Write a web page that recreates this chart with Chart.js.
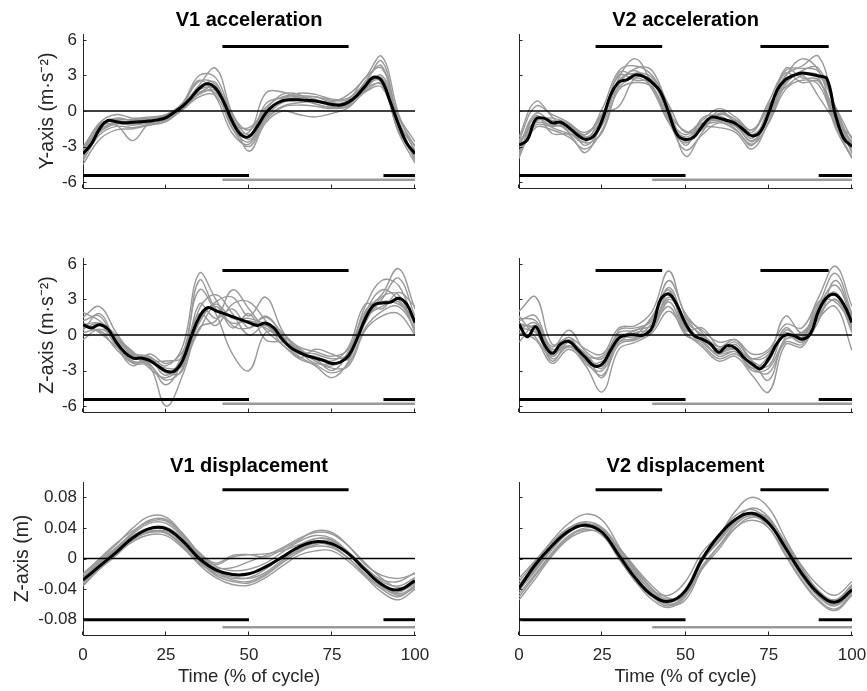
<!DOCTYPE html>
<html>
<head>
<meta charset="utf-8">
<title>Acceleration and displacement over the cycle</title>
<script src="https://cdn.jsdelivr.net/npm/chart.js@4.4.1/dist/chart.umd.min.js"></script>
<style>
  body { margin: 0; background: #fff; }
  canvas { position: absolute; }
</style>
</head>
<body>
<canvas id="p1" width="432" height="224" style="left:0px;top:0px"></canvas>
<canvas id="p2" width="431" height="224" style="left:436px;top:0px"></canvas>
<canvas id="p3" width="432" height="224" style="left:0px;top:224px"></canvas>
<canvas id="p4" width="431" height="224" style="left:436px;top:224px"></canvas>
<canvas id="p5" width="432" height="243" style="left:0px;top:448px"></canvas>
<canvas id="p6" width="431" height="243" style="left:436px;top:448px"></canvas>
<script>
// time bases (% of cycle)
const time5 = [0, 5, 10, 15, 20, 25, 30, 35, 40, 45, 50, 55, 60, 65, 70, 75, 80, 85, 90, 95, 100];
const time2p5 = [0, 2.5, 5, 7.5, 10, 12.5, 15, 17.5, 20, 22.5, 25, 27.5, 30, 32.5, 35, 37.5, 40, 42.5, 45, 47.5,
  50, 52.5, 55, 57.5, 60, 62.5, 65, 67.5, 70, 72.5, 75, 77.5, 80, 82.5, 85, 87.5, 90, 92.5, 95, 97.5, 100];

// tick labels
const timeTicks = [0, 25, 50, 75, 100];
const accTicks = [-6, -3, 0, 3, 6];
const dispTicks = [-0.08, -0.04, 0, 0.04, 0.08];

// mean curves
const v1AccYMean = [-3.6, -2.8, -1.5, -0.8, -0.9, -1.0, -0.95, -0.9, -0.85, -0.75, -0.55, -0.1, 0.4, 1.1, 1.9, 2.3, 1.9, 0.7, -0.9, -2.0,
  -2.15, -1.3, -0.2, 0.5, 0.85, 0.95, 0.95, 0.9, 0.85, 0.7, 0.55, 0.5, 0.75, 1.3, 2.1, 2.85, 2.55, 0.8, -1.1, -2.7, -3.6];
const v2AccYMean = [-2.9, -2.45, -0.7, -0.6, -1.0, -0.95, -1.4, -2.0, -2.4, -2.1, -0.75, 1.35, 2.45, 2.65, 3.05, 2.9, 2.4, 1.6, -0.2, -2.0,
  -2.4, -2.2, -1.3, -0.55, -0.6, -0.8, -1.05, -1.6, -2.1, -1.75, -0.15, 1.75, 2.65, 3.0, 3.2, 3.1, 2.95, 2.7, -0.3, -2.3, -3.0];
const v1AccZMean = [0.87, 0.6, 0.87, 0.5, -0.6, -1.45, -1.95, -1.95, -2.15, -2.6, -3.05, -3.05, -2.15, -0.2, 1.5, 2.3, 2.05, 1.8, 1.55, 1.3,
  1.05, 0.8, 1.0, 0.6, -0.35, -1.05, -1.45, -1.75, -1.95, -2.15, -2.4, -2.3, -1.75, -0.35, 1.35, 2.5, 2.7, 2.75, 3.1, 2.6, 1.05];
const v2AccZMean = [0.93, -0.15, 0.7, -0.75, -1.55, -0.75, -0.55, -1.2, -1.9, -2.6, -2.45, -1.3, -0.25, 0.0, 0.0, 0.0, 0.65, 3.0, 3.45, 2.5,
  0.95, -0.05, -0.35, -0.75, -1.45, -0.9, -1.1, -1.9, -2.45, -2.85, -2.0, -0.7, 0.0, -0.05, -0.35, 0.1, 2.05, 3.2, 3.4, 2.6, 1.05];
const v1DispZMean = [-0.028, -0.010, 0.008, 0.027, 0.039, 0.039, 0.023, 0.0, -0.015, -0.021, -0.020, -0.011, 0.002, 0.015, 0.022, 0.019,
  0.006, -0.015, -0.034, -0.041, -0.029];
const v2DispZMean = [-0.039, -0.0075, 0.017, 0.036, 0.0435, 0.034, 0.004, -0.026, -0.048, -0.056, -0.042, -0.001, 0.030, 0.051, 0.059,
  0.046, 0.014, -0.020, -0.046, -0.057, -0.041];

// individual trials (5 % steps)
const v1AccYTrials = [
  [-3.2, -1.0, -0.3, -0.6, -0.5, -0.3, 0.7, 3.0, 2.8, -0.3, -1.6, 0.3, 1.2, 1.3, 1.2, 0.9, 1.0, 2.8, 3.6, -0.5, -3.0],
  [-4.2, -2.0, -1.3, -1.4, -1.1, -0.8, 0.1, 1.2, 1.3, -1.5, -3.0, -0.8, 0.3, 0.5, 0.4, 0.2, 0.4, 1.6, 2.0, -1.6, -4.0],
  [-3.8, -1.3, -1.2, -2.5, -1.0, -0.6, 0.3, 1.6, 1.5, -0.6, -2.4, -0.3, 1.0, 1.5, 1.4, 1.0, 1.1, 2.4, 4.2, -0.8, -3.3],
  [-3.0, -1.2, -0.6, -0.8, -0.7, -0.4, 0.6, 2.5, 2.2, -1.2, -1.8, 1.5, 1.6, 1.0, 0.6, 0.3, 0.6, 1.9, 2.2, -1.8, -4.4],
  [-4.5, -2.4, -1.6, -1.5, -1.2, -0.9, 0.2, 1.5, 2.0, -0.5, -3.4, -1.0, 0.0, -0.3, -0.5, -0.2, 0.3, 1.8, 3.0, -0.4, -2.6],
  [-3.4, -1.4, -0.7, -0.8, -0.6, -0.4, 0.5, 2.2, 3.6, -0.2, -2.0, 0.0, 0.9, 1.1, 1.2, 0.8, 1.4, 2.8, 4.6, -0.2, -3.5],
  [-3.9, -1.8, -1.1, -1.2, -1.0, -0.7, 0.4, 1.8, 1.8, -1.4, -2.6, -0.5, 0.7, 0.9, 0.9, 0.7, 0.7, 2.2, 2.5, -1.3, -3.9],
  [-3.6, -1.6, -1.0, -1.1, -0.9, -0.5, 0.2, 1.4, 1.7, -0.8, -2.2, 0.6, 1.1, 1.2, 1.0, 0.4, 0.9, 2.0, 2.8, -1.0, -4.2],
  [-4.0, -1.7, -0.9, -1.0, -0.8, -0.6, 0.3, 2.0, 2.4, -1.0, -1.4, 0.1, 1.4, 1.4, 0.6, 0.3, 0.5, 2.5, 3.8, -1.2, -2.9],
  [-3.3, -1.1, -0.8, -0.7, -0.6, -0.3, 0.6, 2.6, 1.2, -1.9, -2.8, -0.6, 0.4, 0.7, 0.8, 0.6, 0.8, 1.7, 2.3, -1.7, -3.7]
];
const v2AccYTrials = [
  [-2.5, 0.4, -0.3, -1.0, -2.0, 0.2, 3.4, 3.8, 3.0, 0.5, -1.8, -0.8, 0.2, -0.5, -1.6, 0.8, 3.4, 3.6, 3.3, 0.4, -2.4],
  [-3.8, -1.4, -1.6, -2.2, -3.2, -1.6, 1.8, 2.4, 2.0, -0.8, -3.3, -2.0, -1.0, -1.6, -2.8, -1.0, 1.8, 2.6, 2.2, -1.2, -3.9],
  [-2.2, 0.8, -0.5, -1.8, -2.6, -0.3, 0.4, 2.8, 2.6, 0.0, -2.6, -1.5, -0.3, -0.9, -2.3, 0.2, 3.0, 3.8, 4.6, 0.2, -2.8],
  [-3.4, -1.2, -1.3, -1.2, -2.2, -1.2, 2.8, 4.4, 2.2, -0.6, -2.0, -1.0, -0.8, -1.3, -2.5, -0.6, 2.4, 3.0, 1.2, -1.0, -3.4],
  [-4.0, -0.4, -1.9, -2.0, -3.5, -0.8, 2.6, 3.2, 2.8, 0.3, -3.8, -1.8, -0.2, -0.7, -1.6, 0.4, 2.9, 4.4, 3.4, -0.6, -2.2],
  [-2.8, -0.9, -0.6, -1.1, -1.8, -0.4, 3.0, 2.6, 2.4, -0.4, -2.4, -1.4, -1.4, -1.8, -3.2, -0.9, 2.2, 3.4, 3.6, 0.0, -3.6],
  [-3.1, -0.2, -1.0, -1.6, -2.7, -1.8, 2.2, 3.6, 3.4, 0.1, -2.9, -0.6, -0.4, -1.2, -2.0, -0.3, 3.6, 2.8, 2.6, -0.8, -2.6],
  [-2.6, -1.0, -1.2, -1.4, -2.0, -0.2, 2.0, 2.8, 2.0, -0.9, -2.2, -1.2, -0.9, -0.8, -1.8, 0.6, 2.0, 3.0, 3.0, 0.3, -3.2],
  [-3.6, -0.7, -0.8, -1.3, -2.9, -1.0, 3.2, 3.0, 2.6, -0.1, -1.7, -1.6, 0.0, -1.0, -2.6, -0.4, 2.6, 3.2, 2.8, -1.4, -4.0],
  [-2.9, -0.5, -1.4, -1.9, -2.3, -0.6, 2.4, 3.4, 1.8, -1.0, -2.7, -1.1, -0.7, -1.5, -2.9, 0.0, 3.2, 2.4, 2.5, -0.2, -3.0]
];
const v1AccZTrials = [
  [1.5, 2.4, 0.2, -1.5, -1.8, -2.6, -1.0, 5.2, 3.0, 0.8, 0.6, 1.5, 0.2, -1.0, -1.4, -1.8, -1.2, 2.4, 4.6, 4.2, 0.8],
  [0.2, 0.4, -1.2, -2.4, -2.6, -6.0, -3.4, 0.6, 1.2, 3.8, 2.2, 0.4, -0.8, -2.0, -2.5, -3.2, -2.4, 0.6, 2.0, 2.4, 0.6],
  [1.9, 1.2, -0.2, -1.6, -2.0, -3.4, -1.6, 3.8, 1.8, -1.6, -3.0, 0.2, -0.1, -1.2, -2.2, -2.6, -1.4, 2.0, 3.4, 5.6, 2.2],
  [0.6, 0.9, -0.9, -2.2, -2.3, -2.8, -2.6, 1.2, 2.8, 3.2, 1.6, 3.2, 0.4, -1.3, -1.6, -2.0, -1.6, 1.0, 3.2, 3.4, 0.2],
  [-0.4, 0.5, -0.4, -1.8, -2.5, -3.8, -2.8, 2.2, 3.4, 1.8, 0.0, 0.8, -0.8, -1.8, -2.6, -3.6, -2.2, 1.6, 2.8, 2.6, 1.4],
  [1.2, 1.6, -0.8, -2.6, -1.6, -2.4, -1.4, 1.8, 0.8, 2.6, 2.8, 1.2, -0.5, -1.6, -1.8, -2.2, -1.0, 2.6, 2.2, 3.6, 2.4],
  [0.8, 0.3, -0.3, -1.4, -2.8, -3.6, -2.4, 0.4, 2.4, 0.6, 1.8, -0.4, -0.6, -1.1, -2.2, -2.8, -2.6, 0.4, 1.6, 1.8, 0.0],
  [0.4, 1.8, -0.6, -2.0, -1.9, -3.2, -3.0, 2.6, 1.4, 2.2, 0.6, 1.6, 0.0, -1.9, -1.2, -1.6, -2.0, 1.8, 3.8, 3.0, 1.0],
  [1.0, 0.2, -1.0, -2.3, -2.2, -2.2, -1.8, 4.6, 2.2, 1.0, 1.2, 0.6, -0.4, -1.4, -2.4, -2.4, -1.8, 1.2, 3.0, 4.8, 1.6],
  [0.9, 1.0, 0.0, -1.7, -2.4, -4.2, -2.2, 1.0, 2.6, 1.4, 1.4, 0.9, -0.2, -1.5, -2.0, -3.0, -1.5, 1.4, 2.4, 2.8, 0.4]
];
const v2AccZTrials = [
  [2.0, 3.2, -0.8, -0.2, -1.2, -1.6, 0.6, 0.8, 2.0, 5.4, 1.6, 0.4, -0.6, -0.4, -1.6, -1.2, 0.9, 0.6, 3.2, 5.8, 2.4],
  [0.2, -0.4, -2.4, -1.2, -2.6, -4.8, -1.2, -0.6, 0.2, 2.0, 0.2, -1.0, -2.2, -1.8, -3.4, -4.8, -0.8, -1.0, 1.4, 2.4, -1.3],
  [1.4, 1.2, -1.0, 0.4, -1.4, -2.0, 0.2, 0.4, 1.4, 4.6, 1.8, 0.2, -1.0, -0.4, -2.0, -1.6, 1.6, 0.2, 2.6, 5.2, 1.8],
  [0.6, 0.2, -2.0, -1.0, -2.2, -3.4, -0.8, -0.4, 0.4, 2.8, 0.2, -0.8, -2.0, -1.6, -2.8, -3.2, -0.6, -0.8, 1.6, 3.0, 0.4],
  [1.2, 1.6, -1.4, -0.6, -1.6, -2.8, 0.4, 0.6, 1.2, 4.0, 1.2, 0.0, -1.2, -0.6, -2.2, -2.6, 0.4, -0.2, 2.4, 4.2, 1.4],
  [-0.6, 0.8, -1.8, -0.2, -2.2, -2.2, -0.6, 0.2, 0.6, 3.6, 0.6, -0.4, -1.8, -1.4, -2.8, -1.8, 0.2, -0.6, 2.2, 3.6, 0.6],
  [0.8, 0.6, -1.2, -0.9, -1.6, -3.6, -0.2, -0.2, 1.0, 3.0, 1.4, -0.2, -1.4, -1.2, -2.2, -3.8, -0.2, 0.2, 1.8, 3.0, 1.2],
  [1.6, -0.2, -1.8, -0.4, -2.0, -2.6, -0.4, 0.4, 0.8, 2.4, 0.0, -0.6, -1.6, -0.8, -2.6, -2.2, 0.6, -0.4, 2.8, 2.8, 0.8],
  [0.4, 1.0, -1.4, -1.0, -1.8, -1.8, 0.0, 0.0, 1.6, 3.8, 0.4, 0.6, -1.0, -1.2, -2.0, -1.4, 0.0, -0.6, 1.2, 4.6, 1.6],
  [1.0, 0.4, -2.2, -0.6, -2.4, -3.0, -0.6, -0.3, 0.6, 3.2, 1.0, -0.6, -1.6, -1.4, -3.0, -2.8, -0.4, 0.0, 2.0, 3.4, 0.2]
];
const v1DispZTrials = [
  [-0.022, -0.002, 0.018, 0.040, 0.055, 0.054, 0.032, 0.006, -0.010, -0.016, -0.014, -0.006, 0.008, 0.022, 0.030, 0.026, 0.008, -0.012, -0.028, -0.030, -0.018],
  [-0.034, -0.012, 0.006, 0.022, 0.031, 0.030, 0.014, -0.008, -0.025, -0.034, -0.035, -0.025, -0.010, 0.004, 0.010, 0.010, -0.004, -0.024, -0.044, -0.054, -0.040],
  [-0.030, -0.008, 0.012, 0.032, 0.046, 0.046, 0.028, 0.004, -0.008, 0.002, 0.005, 0.006, 0.010, 0.018, 0.026, 0.024, 0.008, -0.014, -0.030, -0.036, -0.025],
  [-0.025, -0.004, 0.014, 0.030, 0.040, 0.041, 0.026, 0.004, -0.016, -0.028, -0.030, -0.020, -0.004, 0.012, 0.022, 0.022, 0.008, -0.012, -0.032, -0.046, -0.036],
  [-0.036, -0.014, 0.004, 0.024, 0.035, 0.036, 0.022, 0.002, -0.012, -0.012, -0.004, 0.004, 0.014, 0.026, 0.034, 0.032, 0.016, -0.006, -0.026, -0.038, -0.032],
  [-0.020, 0.000, 0.020, 0.036, 0.048, 0.049, 0.030, 0.006, -0.014, -0.022, -0.020, -0.010, 0.000, 0.010, 0.016, 0.014, 0.000, -0.020, -0.038, -0.044, -0.030],
  [-0.032, -0.010, 0.010, 0.028, 0.036, 0.034, 0.018, -0.004, -0.022, -0.030, -0.032, -0.022, -0.006, 0.008, 0.018, 0.020, 0.006, -0.014, -0.034, -0.042, -0.034],
  [-0.028, -0.006, 0.014, 0.034, 0.050, 0.051, 0.033, 0.008, -0.006, 0.004, 0.005, 0.002, 0.012, 0.024, 0.036, 0.034, 0.016, -0.008, -0.022, -0.026, -0.020],
  [-0.026, -0.005, 0.012, 0.028, 0.038, 0.038, 0.020, -0.003, -0.020, -0.026, -0.025, -0.014, 0.002, 0.016, 0.026, 0.024, 0.006, -0.016, -0.036, -0.048, -0.038],
  [-0.031, -0.009, 0.009, 0.026, 0.034, 0.033, 0.016, -0.006, -0.018, -0.024, -0.026, -0.018, -0.002, 0.010, 0.020, 0.016, 0.000, -0.022, -0.040, -0.050, -0.036]
];
const v2DispZTrials = [
  [-0.030, -0.004, 0.024, 0.046, 0.058, 0.050, 0.016, -0.018, -0.044, -0.056, -0.046, -0.004, 0.028, 0.062, 0.080, 0.066, 0.026, -0.012, -0.042, -0.054, -0.036],
  [-0.050, -0.022, 0.006, 0.028, 0.038, 0.030, 0.000, -0.030, -0.054, -0.064, -0.050, -0.010, 0.016, 0.040, 0.050, 0.040, 0.006, -0.028, -0.054, -0.066, -0.046],
  [-0.036, -0.010, 0.018, 0.038, 0.046, 0.034, 0.000, -0.030, -0.050, -0.058, -0.044, 0.000, 0.030, 0.056, 0.064, 0.048, 0.016, -0.018, -0.046, -0.058, -0.040],
  [-0.042, -0.016, 0.012, 0.034, 0.044, 0.040, 0.014, -0.016, -0.040, -0.054, -0.042, -0.002, 0.022, 0.048, 0.058, 0.046, 0.014, -0.020, -0.048, -0.060, -0.044],
  [-0.026, -0.002, 0.022, 0.040, 0.046, 0.036, 0.010, -0.020, -0.042, -0.048, -0.030, 0.008, 0.030, 0.052, 0.060, 0.050, 0.022, -0.010, -0.036, -0.048, -0.030],
  [-0.046, -0.020, 0.008, 0.030, 0.040, 0.036, 0.012, -0.014, -0.040, -0.060, -0.054, -0.014, 0.012, 0.040, 0.054, 0.044, 0.010, -0.024, -0.050, -0.060, -0.042],
  [-0.038, -0.012, 0.016, 0.036, 0.044, 0.038, 0.010, -0.022, -0.048, -0.056, -0.040, 0.002, 0.026, 0.050, 0.060, 0.052, 0.020, -0.014, -0.044, -0.056, -0.038],
  [-0.054, -0.026, 0.004, 0.026, 0.036, 0.034, 0.014, -0.012, -0.036, -0.052, -0.048, -0.012, 0.016, 0.044, 0.056, 0.040, 0.004, -0.030, -0.056, -0.068, -0.048],
  [-0.034, -0.008, 0.020, 0.040, 0.048, 0.040, 0.010, -0.024, -0.048, -0.060, -0.048, 0.000, 0.024, 0.050, 0.066, 0.054, 0.018, -0.016, -0.046, -0.054, -0.034],
  [-0.040, -0.014, 0.014, 0.034, 0.043, 0.036, 0.006, -0.026, -0.050, -0.062, -0.046, -0.004, 0.022, 0.046, 0.056, 0.046, 0.012, -0.020, -0.050, -0.062, -0.044]
];

// phase bars: [start, end] in % of cycle
const v1TopBars = [[42, 80]];
const v2TopBars = [[23, 43], [72.5, 93]];
const v1BlackBars = [[0, 50], [90.5, 100]];
const v2BlackBars = [[0, 50], [90, 100]];
const v1GreyBars = [[42, 100]];
const v2GreyBars = [[40, 100]];
// bar levels: top, black, grey
const accBarLevels = [5.45, -5.45, -5.8];
const dispBarLevels = [0.09, -0.08, -0.09];

Chart.defaults.font.family = "'Liberation Sans', Arial, Helvetica, sans-serif";
const axisColor = '#262626';
const greyColor = '#999999';

function pts(xs, ys) {
  return xs.map((x, i) => ({x: x, y: ys[i]}));
}

function flat(span, y) {
  return [{x: span[0], y: y}, {x: span[1], y: y}];
}

function fixedTicks(values) {
  return scale => { scale.ticks = values.map(v => ({value: v})); };
}

function noPadding(scale) {
  scale.paddingLeft = 0;
  scale.paddingRight = 0;
  scale.paddingTop = 0;
  scale.paddingBottom = 0;
}

// short tick marks pointing into the plot
const inwardTicks = {
  id: 'inwardTicks',
  afterDraw(chart) {
    const {ctx, chartArea: a, scales: {x, y}} = chart;
    ctx.save();
    ctx.strokeStyle = axisColor;
    ctx.lineWidth = 1;
    ctx.beginPath();
    x.ticks.forEach(t => {
      const px = Math.round(x.getPixelForValue(t.value)) - 0.5;
      ctx.moveTo(px, a.bottom);
      ctx.lineTo(px, a.bottom - 3.5);
    });
    y.ticks.forEach(t => {
      const py = Math.round(y.getPixelForValue(t.value)) + 0.5;
      ctx.moveTo(a.left, py);
      ctx.lineTo(a.left + 3.5, py);
    });
    ctx.stroke();
    ctx.restore();
  }
};

function drawPanel(id, p)
{
  let datasets = [];
  datasets.push({data: pts(p.meanTime, p.mean), borderColor: '#000000', borderWidth: 3});
  datasets.push({data: flat([0, 100], 0), borderColor: '#000000', borderWidth: 1.5, tension: 0});
  p.topBars.forEach(b => datasets.push({data: flat(b, p.barLevels[0]), borderColor: '#000000', borderWidth: 3, tension: 0}));
  p.blackBars.forEach(b => datasets.push({data: flat(b, p.barLevels[1]), borderColor: '#000000', borderWidth: 3, tension: 0}));
  p.greyBars.forEach(b => datasets.push({data: flat(b, p.barLevels[2]), borderColor: greyColor, borderWidth: 2.5, tension: 0}));
  p.trials.forEach(tr => datasets.push({data: pts(time5, tr), borderColor: greyColor, borderWidth: 1.4}));

  new Chart(id, {
    type: 'line',
    data: {datasets: datasets},
    plugins: [inwardTicks],
    options: {
      responsive: false,
      animation: false,
      devicePixelRatio: 1,
      events: [],
      layout: {padding: {top: p.padTop, right: p.padRight, bottom: 0, left: 0}},
      elements: {
        point: {radius: 0},
        line: {tension: 0.4, fill: false, borderCapStyle: 'butt'}
      },
      plugins: {
        legend: {display: false},
        tooltip: {enabled: false},
        title: {
          display: !!p.title,
          text: p.title,
          fullSize: false,
          color: '#000000',
          font: {size: 20, weight: 'bold'},
          padding: p.titlePad
        }
      },
      scales: {
        x: {
          type: 'linear',
          min: 0,
          max: 100,
          afterBuildTicks: fixedTicks(timeTicks),
          afterFit: s => { s.height = p.xHeight; noPadding(s); },
          grid: {display: false, drawTicks: false},
          border: {display: true, color: axisColor, width: 1},
          ticks: {display: p.showX, padding: 10, color: axisColor, font: {size: 17}, maxRotation: 0},
          title: {display: p.showX, text: 'Time (% of cycle)', color: axisColor, font: {size: 18.5}, padding: {top: 0, bottom: 3}}
        },
        y: {
          type: 'linear',
          min: p.yRange[0],
          max: p.yRange[1],
          afterBuildTicks: fixedTicks(p.yTicks),
          afterFit: s => { s.width = 83; noPadding(s); },
          grid: {display: false, drawTicks: false},
          border: {display: true, color: axisColor, width: 1},
          ticks: {display: !!p.yTitle, padding: 6, color: axisColor, font: {size: 17}, callback: v => String(v)},
          title: {display: !!p.yTitle, text: p.yTitle, color: axisColor, font: {size: 19.5}, padding: {top: p.yTitlePad, bottom: 0}}
        }
      }
    }
  });
}

const accRange = [-6.5, 6.5];
const dispRange = [-0.1, 0.1];

drawPanel('p1', {
  title: 'V1 acceleration', titlePad: {top: 8, bottom: 2}, padTop: 0, padRight: 17, xHeight: 36, showX: false,
  yTitle: 'Y-axis (m·s⁻²)', yTitlePad: 36, yRange: accRange, yTicks: accTicks,
  meanTime: time2p5, mean: v1AccYMean, trials: v1AccYTrials,
  topBars: v1TopBars, blackBars: v1BlackBars, greyBars: v1GreyBars, barLevels: accBarLevels
});
drawPanel('p2', {
  title: 'V2 acceleration', titlePad: {top: 8, bottom: 2}, padTop: 0, padRight: 15, xHeight: 36, showX: false,
  yTitle: '', yTitlePad: 0, yRange: accRange, yTicks: accTicks,
  meanTime: time2p5, mean: v2AccYMean, trials: v2AccYTrials,
  topBars: v2TopBars, blackBars: v2BlackBars, greyBars: v2GreyBars, barLevels: accBarLevels
});
drawPanel('p3', {
  title: '', titlePad: 0, padTop: 34, padRight: 17, xHeight: 36, showX: false,
  yTitle: 'Z-axis (m·s⁻²)', yTitlePad: 36, yRange: accRange, yTicks: accTicks,
  meanTime: time2p5, mean: v1AccZMean, trials: v1AccZTrials,
  topBars: v1TopBars, blackBars: v1BlackBars, greyBars: v1GreyBars, barLevels: accBarLevels
});
drawPanel('p4', {
  title: '', titlePad: 0, padTop: 34, padRight: 15, xHeight: 36, showX: false,
  yTitle: '', yTitlePad: 0, yRange: accRange, yTicks: accTicks,
  meanTime: time2p5, mean: v2AccZMean, trials: v2AccZTrials,
  topBars: v2TopBars, blackBars: v2BlackBars, greyBars: v2GreyBars, barLevels: accBarLevels
});
drawPanel('p5', {
  title: 'V1 displacement', titlePad: {top: 6, bottom: 4}, padTop: 0, padRight: 17, xHeight: 56, showX: true,
  yTitle: 'Z-axis (m)', yTitlePad: 11, yRange: dispRange, yTicks: dispTicks,
  meanTime: time5, mean: v1DispZMean, trials: v1DispZTrials,
  topBars: v1TopBars, blackBars: v1BlackBars, greyBars: v1GreyBars, barLevels: dispBarLevels
});
drawPanel('p6', {
  title: 'V2 displacement', titlePad: {top: 6, bottom: 4}, padTop: 0, padRight: 15, xHeight: 56, showX: true,
  yTitle: '', yTitlePad: 0, yRange: dispRange, yTicks: dispTicks,
  meanTime: time5, mean: v2DispZMean, trials: v2DispZTrials,
  topBars: v2TopBars, blackBars: v2BlackBars, greyBars: v2GreyBars, barLevels: dispBarLevels
});
</script>
</body>
</html>
